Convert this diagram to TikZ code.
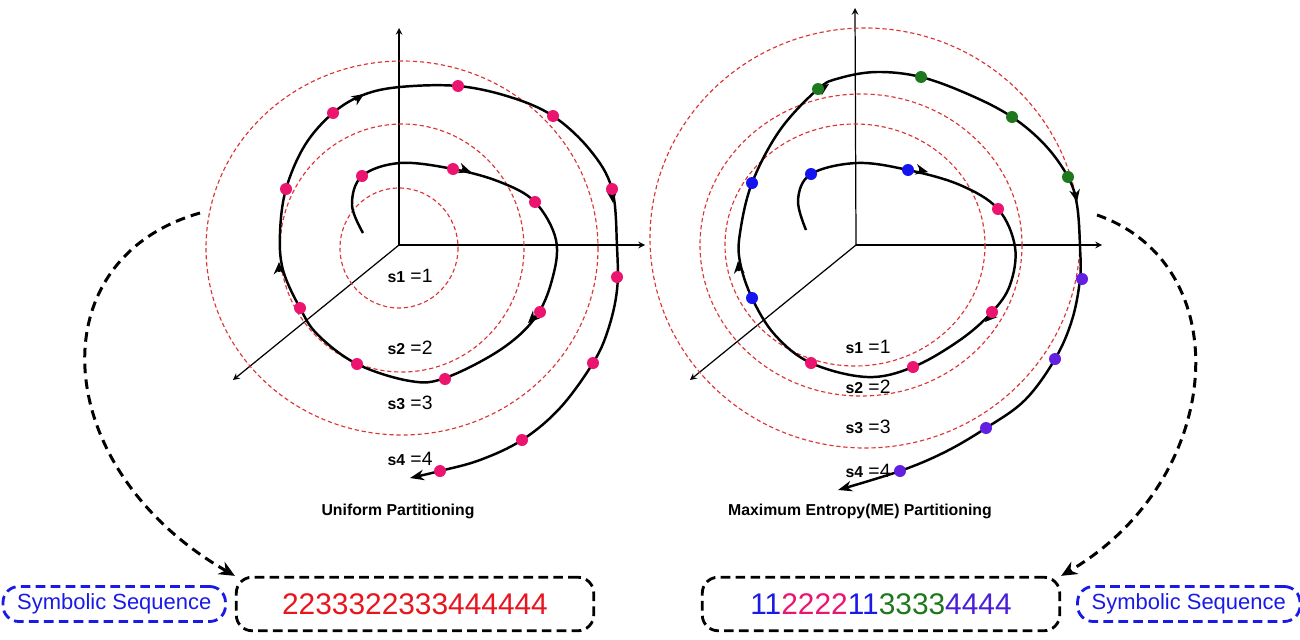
\documentclass[tikz,border=0pt]{standalone}
\usepackage{fontspec}
\setmainfont{Liberation Sans}
\usetikzlibrary{arrows.meta,positioning}

\definecolor{ringred}{HTML}{DC3434}
\definecolor{dotpink}{HTML}{EB146E}
\definecolor{dotblue}{HTML}{1414F0}
\definecolor{dotgreen}{HTML}{1E781E}
\definecolor{dotpurple}{HTML}{6420E0}
\definecolor{seqred}{HTML}{E8141E}
\definecolor{seqviolet}{HTML}{4A1ED8}
\definecolor{boxblue}{HTML}{1A1AE6}

\begin{document}
\begin{tikzpicture}[x=0.02cm,y=-0.02cm,
		ring/.style={draw=ringred,dash pattern=on 2.4pt off 1.6pt,line width=0.65pt},
		orbit/.style={line width=1.4pt},
		midtip/.style={-{Stealth[length=7pt,width=6pt]},line width=1.4pt},
		flow/.style={line width=1.7pt,dash pattern=on 5.5pt off 3.5pt,-{Stealth[length=9pt,width=8pt]}},
		seqbox/.style={draw,line width=1.6pt,dash pattern=on 5.5pt off 3pt,rounded corners=9pt,
			minimum width=7.15cm,minimum height=1.07cm,font=\fontsize{17}{20}\selectfont},
		symbox/.style={draw=boxblue,text=boxblue,line width=1.6pt,dash pattern=on 5.5pt off 3pt,
			rounded corners=9pt,minimum width=4.45cm,minimum height=0.7cm,font=\fontsize{12.5}{14}\selectfont},
		lab/.style={font=\fontsize{11}{13}\selectfont},
		title/.style={font=\bfseries\fontsize{9}{11}\selectfont}]
		\useasboundingbox (0,0) rectangle (1300,639);
		
		% Koordinatenachsen zeichnen
		\begin{scope}[>=stealth,line width=0.7pt]
			\draw[->] (399,245) to (399,28);
			\draw[->] (399,245) to (645,245);
			\draw[->] (399,245) to (233,380);
			\draw[->] (856,245) to (855,8);
			\draw[->] (856,245) to (1102,245);
			\draw[->] (856,245) to (690,380);
		\end{scope}
		
		% Partitionsringe (gleichmaessig)
		\draw[ring] (399,248) ellipse (59 and 60);
		\draw[ring] (402,248) ellipse (122 and 124);
		\draw[ring] (402,248) ellipse (196 and 187);
		
		% Partitionsringe (maximale Entropie)
		\draw[ring] (855,245) ellipse (130 and 121);
		\draw[ring] (861,245) ellipse (161 and 151);
		\draw[ring] (865,238) ellipse (215 and 210);
		
		% Trajektorie links
		\draw[orbit,-{Stealth[length=8pt,width=6pt]}] plot[smooth,tension=0.6] coordinates {(363,233) (352,205) (362,176) (400,163) (453,169) (500,182) (535,202) (556,240) (552,280) (535,318) (500,350) (445,378) (410,381) (357,364) (318,335) (300,308) (283,270) (280,233) (286,189) (305,145) (333,113) (363,95) (400,87) (458,86) (510,97) (553,116) (590,150) (612,189) (617,247) (617,290) (608,330) (593,363) (560,408) (522,440) (480,460) (440,471) (410,478)};
		\draw[midtip] (462,169) to (471,172);
		\draw[midtip] (535,316) to (528,323);
		\draw[midtip] (279,272) to (279,262);
		\draw[midtip] (355,100) to (364,94);
		\draw[midtip] (612,193) to (613,203);
		
		% Trajektorie rechts
		\draw[orbit,-{Stealth[length=8pt,width=6pt]}] plot[smooth,tension=0.6] coordinates {(806,230) (798,200) (811,174) (857,163) (908,170) (960,185) (998,209) (1015,247) (1010,285) (992,312) (960,340) (913,367) (867,377) (811,363) (775,335) (752,298) (740,262) (740,233) (752,183) (780,130) (818,89) (840,78) (877,72) (921,77) (970,95) (1012,117) (1045,145) (1068,177) (1077,205) (1080,247) (1080,279) (1072,320) (1055,359) (1025,400) (986,428) (945,452) (900,471) (838,490)};
		\draw[midtip] (919,170) to (928,172);
		\draw[midtip] (992,315) to (985,322);
		\draw[midtip] (739,271) to (738,261);
		\draw[midtip] (820,90) to (829,84);
		\draw[midtip] (1075,192) to (1077,202);
		
		% Messpunkte
		\foreach \x/\y in {362/176,453/169,535/202,540/312,445/379,357/364,300/308,286/189,333/113,458/86,553/116,612/189,617/277,593/363,522/440,440/471,998/209,992/312,913/367,811/363}
			\fill[dotpink] (\x,\y) circle (6);
		\foreach \x/\y in {811/174,908/170,752/298,752/183}
			\fill[dotblue] (\x,\y) circle (6);
		\foreach \x/\y in {818/89,921/77,1012/117,1068/177}
			\fill[dotgreen] (\x,\y) circle (6);
		\foreach \x/\y in {1082/279,1055/359,986/428,900/471}
			\fill[dotpurple] (\x,\y) circle (6);
		
		% Symbolbeschriftungen
		\foreach \i/\y in {1/276,2/348,3/403,4/459}
			\node[lab] (sl\i) at (410,\y) {{\bfseries\small s\i} =\i};
		\foreach \i/\y in {1/347,2/387,3/427,4/471}
			\node[lab] (sr\i) at (868,\y) {{\bfseries\small s\i} =\i};
		
		% Titel
		\node[title] (uniTitle) at (398,511) {Uniform Partitioning};
		\node[title] (meTitle) at (860,511) {Maximum Entropy(ME) Partitioning};
		
		% Symbolfolgen
		\node[seqbox,text=seqred] (seqL) at (415,604) {2233322333444444};
		\node[seqbox] (seqR) at (881,604) {\textcolor{boxblue}{11}\textcolor{dotpink}{2222}\textcolor{boxblue}{11}\textcolor{dotgreen}{3333}\textcolor{seqviolet}{4444}};
		\node[symbox,left=0.16cm of seqL] (symL) {Symbolic Sequence};
		\node[symbox,right=0.3cm of seqR] (symR) {Symbolic Sequence};
		
		% Pfeile zu den Folgen
		\coordinate (leftTail) at (200,213);
		\coordinate (rightTail) at (1097,215);
		\draw[flow] (leftTail) .. controls (35,260) and (50,470) .. (seqL.north west);
		\draw[flow] (rightTail) .. controls (1240,265) and (1225,480) .. (seqR.north east);
	\end{tikzpicture}
\end{document}
